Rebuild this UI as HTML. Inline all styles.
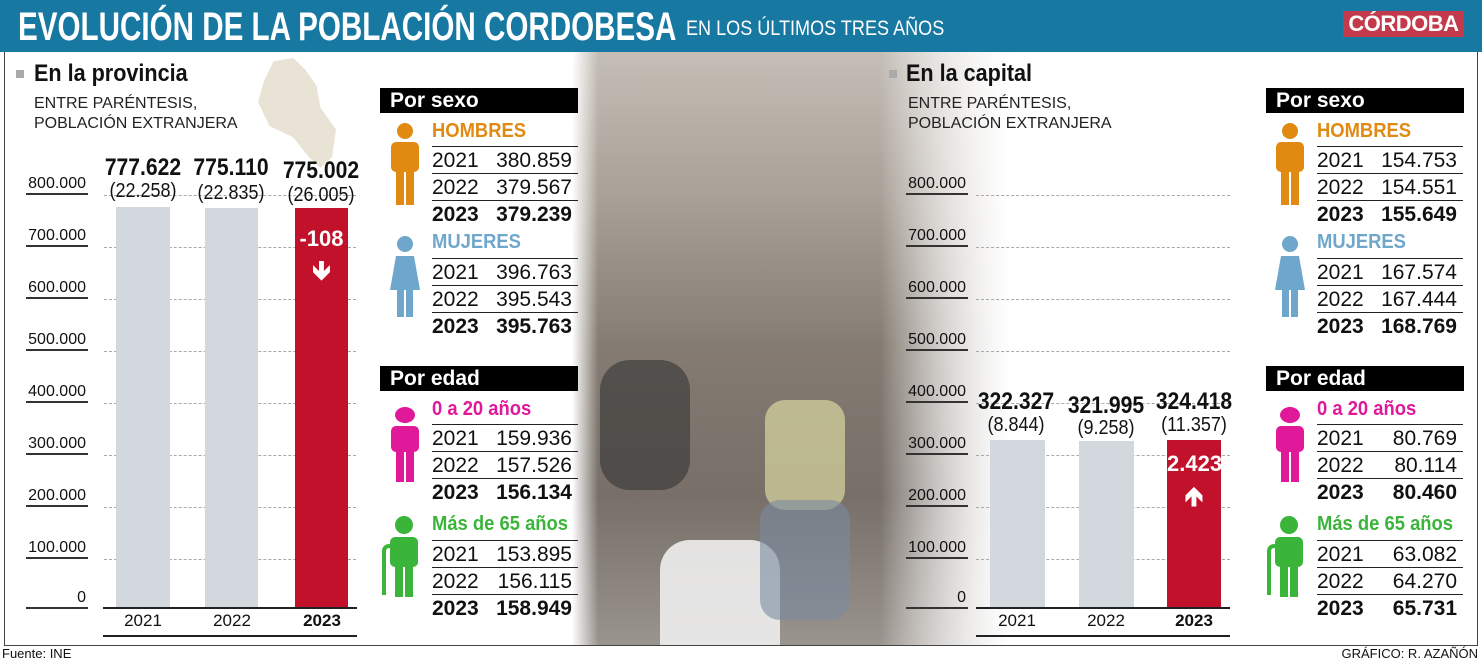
<!DOCTYPE html>
<html><head><meta charset="utf-8"><style>
*{margin:0;padding:0;box-sizing:border-box}
body{width:1482px;height:660px;background:#fff;position:relative;overflow:hidden;font-family:"Liberation Sans",sans-serif;color:#111}
.a{position:absolute;white-space:nowrap}
.hdr{left:0;top:0;width:1482px;height:52px;background:#1778a2}
.title{left:18px;top:5px;color:#fff;font-weight:bold;font-size:40px;transform:scaleX(0.74);transform-origin:left top}
.sub{left:686px;top:17px;color:#fff;font-size:21px;transform:scaleX(0.86);transform-origin:left top}
.logo{left:1343px;top:11px;width:121px;height:26px;background:#c23a4b;color:#fff;font-weight:bold;font-size:22px;text-align:center;line-height:26px;letter-spacing:-0.5px}
.frame{left:4px;top:52px;width:1474px;height:594px;border:1px solid #444;border-top:none}
.sec{font-weight:bold;font-size:24px;transform:scaleX(0.9);transform-origin:left top}
.sq{width:8px;height:8px;background:#aaa}
.note{font-size:16px;line-height:20px;color:#222}
.yl{font-size:16px;text-align:right;width:62px;border-bottom:2px solid #333;line-height:18px;padding-right:2px}
.dot{height:0;border-top:1px dashed #aaa}
.bar{background:#d2d8de}
.red{background:#c2112a}
.big{font-weight:bold;font-size:24px;text-align:center;transform:scaleX(0.88)}
.par{font-size:20px;text-align:center;transform:scaleX(0.9)}
.yr{font-size:17px;text-align:center;width:60px}
.th{background:#000;color:#fff;font-weight:bold;font-size:21px;padding-left:10px;line-height:25px;height:25px}
.lab{font-weight:bold;font-size:20px;transform:scaleX(0.92);transform-origin:left top}
.row{height:27px;border-top:1px solid #222;font-size:21px;line-height:27px}
.row span{position:absolute;right:6px}
.b{font-weight:bold}
</style></head><body>
<div class="a" style="left:572px;top:52px;width:440px;height:593px;background:linear-gradient(180deg,#c4beb6 0%,#a8a097 25%,#847b72 50%,#776f68 75%,#9a948e 100%);-webkit-mask-image:linear-gradient(90deg,rgba(0,0,0,0) 0%,#000 6%,#000 70%,rgba(0,0,0,0) 100%)"></div>
<div class="a" style="left:600px;top:360px;width:90px;height:130px;background:#333;border-radius:30px;opacity:.6"></div>
<div class="a" style="left:765px;top:400px;width:80px;height:110px;background:#d8d6a0;border-radius:20px;opacity:.7"></div>
<div class="a" style="left:660px;top:540px;width:120px;height:105px;background:#eee;border-radius:30px 30px 0 0;opacity:.9"></div>
<div class="a" style="left:760px;top:500px;width:90px;height:120px;background:#7a8aa0;border-radius:20px;opacity:.6"></div>
<div class="a" style="left:880px;top:52px;width:200px;height:593px;background:linear-gradient(90deg,rgba(255,255,255,0),#fff)"></div>

<div class="a hdr"></div>
<div class="a title">EVOLUCIÓN DE LA POBLACIÓN CORDOBESA</div>
<div class="a sub">EN LOS ÚLTIMOS TRES AÑOS</div>
<div class="a logo">CÓRDOBA</div>
<div class="a frame"></div>

<div class="a" style="left:258px;top:58px;width:78px;height:110px;background:#e9e3d6;clip-path:polygon(20% 3%,45% 0,60% 10%,75% 25%,80% 45%,100% 65%,95% 90%,80% 100%,65% 90%,45% 72%,15% 62%,0 40%,8% 20%)"></div>
<div class="a sq" style="left:16px;top:70px"></div>
<div class="a sec" style="left:34px;top:60px">En la provincia</div>
<div class="a note" style="left:34px;top:94px">ENTRE PARÉNTESIS,<br>POBLACIÓN EXTRANJERA</div>

<div class="a yl" style="left:26px;top:175px">800.000</div>
<div class="a yl" style="left:26px;top:227px">700.000</div>
<div class="a yl" style="left:26px;top:279px">600.000</div>
<div class="a yl" style="left:26px;top:331px">500.000</div>
<div class="a yl" style="left:26px;top:383px">400.000</div>
<div class="a yl" style="left:26px;top:435px">300.000</div>
<div class="a yl" style="left:26px;top:487px">200.000</div>
<div class="a yl" style="left:26px;top:539px">100.000</div>
<div class="a yl" style="left:26px;top:589px">0</div>
<div class="a dot" style="left:104px;top:195px;width:252px"></div>
<div class="a dot" style="left:104px;top:247px;width:252px"></div>
<div class="a dot" style="left:104px;top:299px;width:252px"></div>
<div class="a dot" style="left:104px;top:351px;width:252px"></div>
<div class="a dot" style="left:104px;top:403px;width:252px"></div>
<div class="a dot" style="left:104px;top:455px;width:252px"></div>
<div class="a dot" style="left:104px;top:507px;width:252px"></div>
<div class="a dot" style="left:104px;top:559px;width:252px"></div>
<div class="a bar" style="left:116px;top:207px;width:54px;height:400px"></div>
<div class="a bar" style="left:205px;top:208px;width:53px;height:399px"></div>
<div class="a red" style="left:295px;top:208px;width:53px;height:399px"></div>
<div class="a" style="left:295px;top:226px;width:53px;text-align:center;color:#fff;font-weight:bold;font-size:22px">-108</div>
<div class="a" style="left:295px;top:252px;width:53px;text-align:center;color:#fff;font-weight:bold;font-size:26px">🡻</div>
<div class="a big" style="left:93px;top:154px;width:100px">777.622</div>
<div class="a big" style="left:181px;top:154px;width:100px">775.110</div>
<div class="a big" style="left:271px;top:157px;width:100px">775.002</div>
<div class="a par" style="left:93px;top:180px;width:100px">(22.258)</div>
<div class="a par" style="left:181px;top:182px;width:100px">(22.835)</div>
<div class="a par" style="left:271px;top:184px;width:100px">(26.005)</div>
<div class="a" style="left:103px;top:607px;width:254px;border-top:2px solid #222"></div>
<div class="a yr" style="left:113px;top:611px">2021</div>
<div class="a yr" style="left:202px;top:611px">2022</div>
<div class="a yr b" style="left:292px;top:611px">2023</div>
<div class="a" style="left:103px;top:635px;width:254px;border-top:2px solid #222"></div>

<div class="a th" style="left:380px;top:88px;width:198px">Por sexo</div>
<div class="a th" style="left:380px;top:366px;width:198px">Por edad</div>
<div class="a th" style="left:1266px;top:88px;width:198px">Por sexo</div>
<div class="a th" style="left:1266px;top:366px;width:198px">Por edad</div>

<svg class="a" style="left:388px;top:122px" width="34" height="85"><circle cx="17" cy="9" r="8" fill="#e08a12"/><rect x="3" y="20" width="28" height="30" rx="5" fill="#e08a12"/><rect x="8" y="45" width="8" height="38" fill="#e08a12"/><rect x="18" y="45" width="8" height="38" fill="#e08a12"/></svg>
<svg class="a" style="left:388px;top:234px" width="34" height="85"><circle cx="17" cy="10" r="8" fill="#6fa7cc"/><polygon points="8,22 26,22 32,56 2,56" fill="#6fa7cc"/><rect x="9" y="55" width="7" height="28" fill="#6fa7cc"/><rect x="18" y="55" width="7" height="28" fill="#6fa7cc"/></svg>
<svg class="a" style="left:388px;top:404px" width="34" height="80"><ellipse cx="17" cy="11" rx="10" ry="8" fill="#e0189a"/><rect x="3" y="22" width="28" height="26" rx="5" fill="#e0189a"/><rect x="8" y="45" width="8" height="33" fill="#e0189a"/><rect x="18" y="45" width="8" height="33" fill="#e0189a"/></svg>
<svg class="a" style="left:374px;top:515px" width="48" height="85"><circle cx="30" cy="10" r="9" fill="#3ab53a"/><rect x="16" y="22" width="28" height="30" rx="5" fill="#3ab53a"/><rect x="21" y="48" width="8" height="34" fill="#3ab53a"/><rect x="31" y="48" width="8" height="34" fill="#3ab53a"/><path d="M10 80 V36 a5 5 0 0 1 10 0" stroke="#3ab53a" stroke-width="4" fill="none"/></svg>
<svg class="a" style="left:1273px;top:122px" width="34" height="85"><circle cx="17" cy="9" r="8" fill="#e08a12"/><rect x="3" y="20" width="28" height="30" rx="5" fill="#e08a12"/><rect x="8" y="45" width="8" height="38" fill="#e08a12"/><rect x="18" y="45" width="8" height="38" fill="#e08a12"/></svg>
<svg class="a" style="left:1273px;top:234px" width="34" height="85"><circle cx="17" cy="10" r="8" fill="#6fa7cc"/><polygon points="8,22 26,22 32,56 2,56" fill="#6fa7cc"/><rect x="9" y="55" width="7" height="28" fill="#6fa7cc"/><rect x="18" y="55" width="7" height="28" fill="#6fa7cc"/></svg>
<svg class="a" style="left:1273px;top:404px" width="34" height="80"><ellipse cx="17" cy="11" rx="10" ry="8" fill="#e0189a"/><rect x="3" y="22" width="28" height="26" rx="5" fill="#e0189a"/><rect x="8" y="45" width="8" height="33" fill="#e0189a"/><rect x="18" y="45" width="8" height="33" fill="#e0189a"/></svg>
<svg class="a" style="left:1259px;top:515px" width="48" height="85"><circle cx="30" cy="10" r="9" fill="#3ab53a"/><rect x="16" y="22" width="28" height="30" rx="5" fill="#3ab53a"/><rect x="21" y="48" width="8" height="34" fill="#3ab53a"/><rect x="31" y="48" width="8" height="34" fill="#3ab53a"/><path d="M10 80 V36 a5 5 0 0 1 10 0" stroke="#3ab53a" stroke-width="4" fill="none"/></svg>

<div class="a lab" style="left:432px;top:120px;color:#e08a12">HOMBRES</div>
<div class="a" style="left:432px;top:146px;width:146px"><div class="row" style="position:relative">2021<span>380.859</span></div><div class="row" style="position:relative">2022<span>379.567</span></div><div class="row b" style="position:relative">2023<span>379.239</span></div></div>
<div class="a lab" style="left:432px;top:231px;color:#6fa7cc">MUJERES</div>
<div class="a" style="left:432px;top:258px;width:146px"><div class="row" style="position:relative">2021<span>396.763</span></div><div class="row" style="position:relative">2022<span>395.543</span></div><div class="row b" style="position:relative">2023<span>395.763</span></div></div>
<div class="a lab" style="left:432px;top:398px;color:#e0189a">0 a 20 años</div>
<div class="a" style="left:432px;top:424px;width:146px"><div class="row" style="position:relative">2021<span>159.936</span></div><div class="row" style="position:relative">2022<span>157.526</span></div><div class="row b" style="position:relative">2023<span>156.134</span></div></div>
<div class="a lab" style="left:432px;top:513px;color:#3ab53a">Más de 65 años</div>
<div class="a" style="left:432px;top:540px;width:146px"><div class="row" style="position:relative">2021<span>153.895</span></div><div class="row" style="position:relative">2022<span>156.115</span></div><div class="row b" style="position:relative">2023<span>158.949</span></div></div>

<div class="a lab" style="left:1317px;top:120px;color:#e08a12">HOMBRES</div>
<div class="a" style="left:1317px;top:146px;width:146px"><div class="row" style="position:relative">2021<span>154.753</span></div><div class="row" style="position:relative">2022<span>154.551</span></div><div class="row b" style="position:relative">2023<span>155.649</span></div></div>
<div class="a lab" style="left:1317px;top:231px;color:#6fa7cc">MUJERES</div>
<div class="a" style="left:1317px;top:258px;width:146px"><div class="row" style="position:relative">2021<span>167.574</span></div><div class="row" style="position:relative">2022<span>167.444</span></div><div class="row b" style="position:relative">2023<span>168.769</span></div></div>
<div class="a lab" style="left:1317px;top:398px;color:#e0189a">0 a 20 años</div>
<div class="a" style="left:1317px;top:424px;width:146px"><div class="row" style="position:relative">2021<span>80.769</span></div><div class="row" style="position:relative">2022<span>80.114</span></div><div class="row b" style="position:relative">2023<span>80.460</span></div></div>
<div class="a lab" style="left:1317px;top:513px;color:#3ab53a">Más de 65 años</div>
<div class="a" style="left:1317px;top:540px;width:146px"><div class="row" style="position:relative">2021<span>63.082</span></div><div class="row" style="position:relative">2022<span>64.270</span></div><div class="row b" style="position:relative">2023<span>65.731</span></div></div>

<div class="a sq" style="left:889px;top:70px"></div>
<div class="a sec" style="left:906px;top:60px">En la capital</div>
<div class="a note" style="left:908px;top:94px">ENTRE PARÉNTESIS,<br>POBLACIÓN EXTRANJERA</div>
<div class="a yl" style="left:906px;top:175px">800.000</div>
<div class="a yl" style="left:906px;top:227px">700.000</div>
<div class="a yl" style="left:906px;top:279px">600.000</div>
<div class="a yl" style="left:906px;top:331px">500.000</div>
<div class="a yl" style="left:906px;top:383px">400.000</div>
<div class="a yl" style="left:906px;top:435px">300.000</div>
<div class="a yl" style="left:906px;top:487px">200.000</div>
<div class="a yl" style="left:906px;top:539px">100.000</div>
<div class="a yl" style="left:906px;top:589px">0</div>
<div class="a dot" style="left:976px;top:195px;width:254px"></div>
<div class="a dot" style="left:976px;top:247px;width:254px"></div>
<div class="a dot" style="left:976px;top:299px;width:254px"></div>
<div class="a dot" style="left:976px;top:351px;width:254px"></div>
<div class="a dot" style="left:976px;top:403px;width:254px"></div>
<div class="a dot" style="left:976px;top:455px;width:254px"></div>
<div class="a dot" style="left:976px;top:507px;width:254px"></div>
<div class="a dot" style="left:976px;top:559px;width:254px"></div>
<div class="a bar" style="left:990px;top:440px;width:55px;height:167px"></div>
<div class="a bar" style="left:1079px;top:441px;width:55px;height:166px"></div>
<div class="a red" style="left:1167px;top:440px;width:54px;height:167px"></div>
<div class="a" style="left:1167px;top:451px;width:54px;text-align:center;color:#fff;font-weight:bold;font-size:22px">2.423</div>
<div class="a" style="left:1167px;top:478px;width:54px;text-align:center;color:#fff;font-weight:bold;font-size:26px">🡹</div>
<div class="a big" style="left:966px;top:388px;width:100px">322.327</div>
<div class="a big" style="left:1056px;top:392px;width:100px">321.995</div>
<div class="a big" style="left:1144px;top:388px;width:100px">324.418</div>
<div class="a par" style="left:966px;top:414px;width:100px">(8.844)</div>
<div class="a par" style="left:1056px;top:417px;width:100px">(9.258)</div>
<div class="a par" style="left:1144px;top:414px;width:100px">(11.357)</div>
<div class="a" style="left:976px;top:607px;width:254px;border-top:2px solid #222"></div>
<div class="a yr" style="left:987px;top:611px">2021</div>
<div class="a yr" style="left:1076px;top:611px">2022</div>
<div class="a yr b" style="left:1164px;top:611px">2023</div>
<div class="a" style="left:976px;top:635px;width:254px;border-top:2px solid #222"></div>

<div class="a" style="left:2px;top:646px;font-size:13px">Fuente: INE</div>
<div class="a" style="right:4px;top:646px;font-size:13px">GRÁFICO: R. AZAÑÓN</div>
</body></html>
